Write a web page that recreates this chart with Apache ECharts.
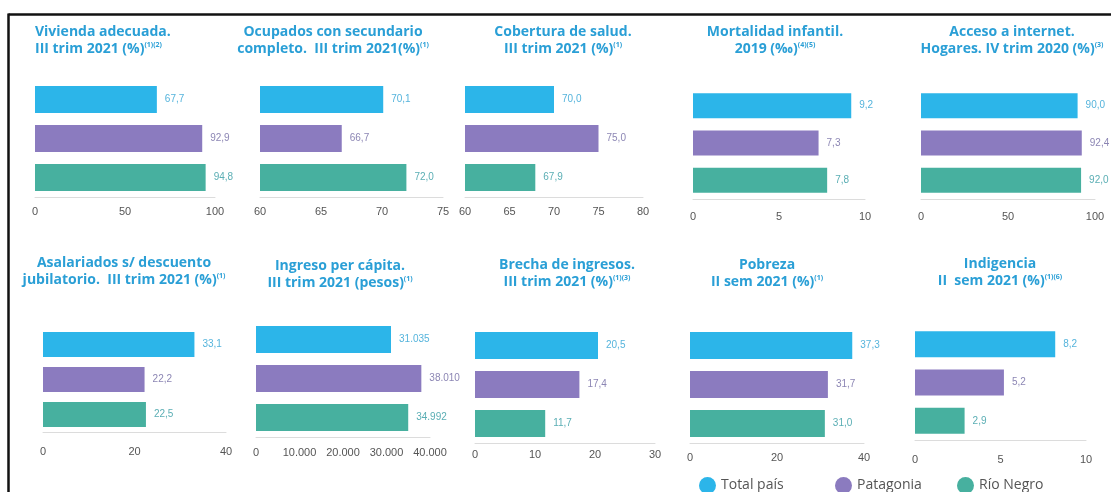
<!DOCTYPE html>
<html>
<head>
<meta charset="utf-8">
<script src="https://cdn.jsdelivr.net/npm/echarts@6/dist/echarts.min.js"></script>
<style>
  html, body { margin: 0; padding: 0; background: #fff; }
  #chart { width: 1111px; height: 492px; }
</style>
</head>
<body>
<div id="chart"></div>
<script>
// datos
const categories = ['Total país', 'Patagonia', 'Río Negro']
const titleLines = [
  ['Vivienda adecuada.', 'III trim 2021 (%)', '(1)(2)'],
  ['Ocupados con secundario', 'completo.  III trim 2021(%)', '(1)'],
  ['Cobertura de salud.', 'III trim 2021 (%)', '(1)'],
  ['Mortalidad infantil.', '2019 (‰)', '(4)(5)'],
  ['Acceso a internet.', 'Hogares. IV trim 2020 (%)', '(3)'],
  ['Asalariados s/ descuento', 'jubilatorio.  III trim 2021 (%)', '(1)'],
  ['Ingreso per cápita.', 'III trim 2021 (pesos)', '(1)'],
  ['Brecha de ingresos.', 'III trim 2021 (%)', '(1)(3)'],
  ['Pobreza', 'II sem 2021 (%)', '(1)'],
  ['Indigencia', 'II  sem 2021 (%)', '(1)(6)'],
]
const totalPais = [67.7, 70.1, 70.0, 9.2, 90.0, 33.1, 31035, 20.5, 37.3, 8.2]
const patagonia = [92.9, 66.7, 75.0, 7.3, 92.4, 22.2, 38010, 17.4, 31.7, 5.2]
const rioNegro = [94.8, 72.0, 67.9, 7.8, 92.0, 22.5, 34992, 11.7, 31.0, 2.9]
const axisMin = [0, 60, 60, 0, 0, 0, 0, 0, 0, 0]
const axisMax = [100, 75, 80, 10, 100, 40, 40000, 30, 40, 10]
const axisStep = [50, 5, 5, 5, 50, 20, 10000, 10, 20, 5]
const isPesos = [false, false, false, false, false, false, true, false, false, false]

// layout
const grids = [
  { left: 35, width: 180, top: 80, height: 117 },
  { left: 260, width: 183, top: 80, height: 117 },
  { left: 465, width: 178, top: 80, height: 117 },
  { left: 693, width: 172, top: 87, height: 112 },
  { left: 921, width: 174, top: 87, height: 112 },
  { left: 43, width: 183, top: 327, height: 105 },
  { left: 256, width: 174, top: 320, height: 117 },
  { left: 475, width: 180, top: 326, height: 117 },
  { left: 690, width: 174, top: 326, height: 117 },
  { left: 915, width: 171, top: 325, height: 115 },
]
const barWidths = [27, 27, 27, 25, 25, 25, 27, 27, 27, 26]
const labelMargins = [9, 9, 9, 12, 12, 14, 10, 6, 9, 14]
const titlePos = [
  { x: 35, y: 24, align: 'left' },
  { x: 333, y: 24 },
  { x: 563, y: 24 },
  { x: 775, y: 24 },
  { x: 1012, y: 24 },
  { x: 124, y: 255 },
  { x: 340, y: 258 },
  { x: 567, y: 257 },
  { x: 767, y: 257 },
  { x: 1000, y: 256 },
]

const colors = ['#2cb5e9', '#8b7bbf', '#47b09f']
const labelColors = ['#55b4dc', '#8c86b4', '#5aaeb4']
const titleColor = '#2a9fd6'

function thousands(v) {
  return String(Math.round(v)).replace(/\B(?=(\d{3})+(?!\d))/g, '.')
}
function fmtValue(v, pesos) {
  return pesos ? thousands(v) : v.toFixed(1).replace('.', ',')
}

const chart = echarts.init(document.getElementById('chart'))
const seriesValues = [totalPais, patagonia, rioNegro]

const option = {
  backgroundColor: '#fff',
  animation: false,
  title: titleLines.map((t, i) => ({
    text: t[0] + '\n' + t[1] + '{s|' + t[2] + '}',
    left: titlePos[i].x,
    top: titlePos[i].y,
    padding: 0,
    textAlign: titlePos[i].align || 'center',
    textStyle: {
      color: titleColor,
      fontFamily: 'Open Sans',
      fontSize: 14,
      fontWeight: 'bold',
      lineHeight: 17,
      rich: {
        s: {
          color: titleColor,
          fontFamily: 'Open Sans',
          fontSize: 7,
          fontWeight: 'bold',
          lineHeight: 9,
          verticalAlign: 'top',
        },
      },
    },
  })),
  legend: categories.map((c, k) => ({
    data: [c],
    left: [694, 830, 952][k],
    top: 472,
    icon: 'circle',
    itemWidth: 17,
    itemHeight: 17,
    itemGap: 0,
    textStyle: { color: '#555', fontSize: 14, fontFamily: 'Open Sans' },
  })),
  grid: grids.map((g) => ({ ...g, containLabel: false })),
  xAxis: grids.map((g, i) => ({
    type: 'value',
    gridIndex: i,
    min: axisMin[i],
    max: axisMax[i],
    interval: axisStep[i],
    axisLine: { show: true, lineStyle: { color: '#dcdcdc', width: 1 } },
    axisTick: { show: false },
    splitLine: { show: false },
    axisLabel: {
      color: '#555',
      fontSize: 11,
      margin: labelMargins[i],
      formatter: (v) => (isPesos[i] ? thousands(v) : String(v)),
    },
  })),
  yAxis: grids.map((g, i) => ({
    type: 'category',
    gridIndex: i,
    data: categories,
    inverse: true,
    show: false,
  })),
  series: [],
}

grids.forEach((g, i) => {
  categories.forEach((c, k) => {
    option.series.push({
      name: c,
      type: 'bar',
      xAxisIndex: i,
      yAxisIndex: i,
      barWidth: barWidths[i],
      barGap: '-100%',
      data: categories.map((cc, j) => (j === k ? seriesValues[k][i] : '-')),
      itemStyle: { color: colors[k] },
      label: {
        show: true,
        position: 'right',
        distance: 8,
        color: labelColors[k],
        fontSize: 10,
        formatter: (p) => fmtValue(p.value, isPesos[i]),
      },
    })
  })
})

option.graphic = [
  { type: 'line', shape: { x1: 8.5, y1: 14.5, x2: 1111, y2: 14.5 }, style: { stroke: '#111', lineWidth: 2.5 } },
  { type: 'line', shape: { x1: 8.5, y1: 13.5, x2: 8.5, y2: 492 }, style: { stroke: '#111', lineWidth: 2.5 } },
]

chart.setOption(option)
</script>
</body>
</html>
